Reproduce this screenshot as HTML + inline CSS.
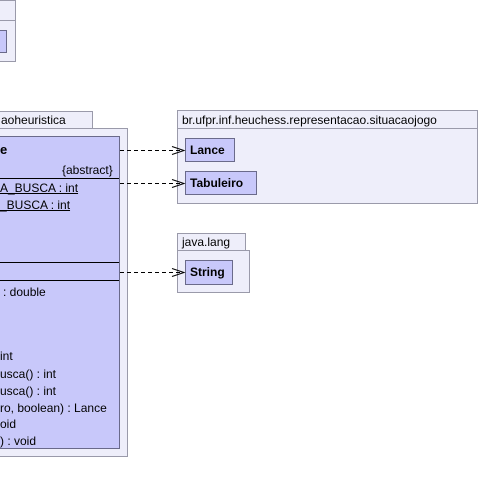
<!DOCTYPE html>
<html><head><style>
body{margin:0;width:479px;height:494px;background:#fff;position:relative;overflow:hidden;font-family:"Liberation Sans",sans-serif;font-size:12px;color:#000}
.a{position:absolute;box-sizing:border-box}
.pk{background:#eeeefa;border:1px solid #9a9aaa}
.cl{background:#c8c8fa;border:1px solid #6a6a8a}
.t{position:absolute;white-space:nowrap}
.b{font-weight:bold;font-size:12px}
</style></head><body>
<div class="a pk" style="left:-2px;top:0;width:18px;height:21px"></div>
<div class="a pk" style="left:-2px;top:20px;width:18px;height:42px"></div>
<div class="a cl" style="left:-2px;top:30px;width:9px;height:23px"></div>
<div class="a pk" style="left:-2px;top:111px;width:95px;height:18px"></div>
<div class="t" style="left:1px;top:113px">aoheuristica</div>
<div class="a pk" style="left:-2px;top:128px;width:130px;height:329px"></div>
<div class="a cl" style="left:-2px;top:136px;width:122px;height:313px"></div>
<div class="t b" style="left:0;top:142px;font-size:13px">e</div>
<div class="t" style="left:62px;top:163px">{abstract}</div>
<div class="a" style="left:0;top:178px;width:119px;height:1px;background:#000"></div>
<div class="t" style="left:0;top:181px;text-decoration:underline">A_BUSCA : int</div>
<div class="t" style="left:0;top:198px;text-decoration:underline">_BUSCA : int</div>
<div class="a" style="left:0;top:262px;width:119px;height:1px;background:#000"></div>
<div class="a" style="left:0;top:280px;width:119px;height:1px;background:#000"></div>
<div class="t" style="left:3px;top:285px">: double</div>
<div class="t" style="left:0;top:349px">int</div>
<div class="t" style="left:0;top:367px">usca() : int</div>
<div class="t" style="left:0;top:384px">usca() : int</div>
<div class="t" style="left:0;top:401px">ro, boolean) : Lance</div>
<div class="t" style="left:0;top:417px">oid</div>
<div class="t" style="left:0;top:434px">) : void</div>
<div class="a pk" style="left:177px;top:110px;width:301px;height:19px"></div>
<div class="t" style="left:182px;top:113px">br.ufpr.inf.heuchess.representacao.situacaojogo</div>
<div class="a pk" style="left:177px;top:128px;width:301px;height:76px"></div>
<div class="a cl" style="left:185px;top:138px;width:50px;height:24px"></div>
<div class="t b" style="left:190px;top:143px">Lance</div>
<div class="a cl" style="left:185px;top:171px;width:72px;height:24px"></div>
<div class="t b" style="left:190px;top:176px">Tabuleiro</div>
<div class="a pk" style="left:177px;top:233px;width:69px;height:18px"></div>
<div class="t" style="left:182px;top:235px">java.lang</div>
<div class="a pk" style="left:177px;top:250px;width:73px;height:43px"></div>
<div class="a cl" style="left:185px;top:260px;width:48px;height:25px"></div>
<div class="t b" style="left:190px;top:265px">String</div>
<svg class="a" style="left:0;top:0" width="479" height="494">
<g stroke="#000" fill="none" stroke-width="1">
<path d="M120 150.5H184" stroke-dasharray="4,3"/><path d="M172 146.5L184 150.5L172 154.5"/>
<path d="M120 183.5H184" stroke-dasharray="4,3"/><path d="M172 179.5L184 183.5L172 187.5"/>
<path d="M120 272.5H184" stroke-dasharray="4,3"/><path d="M172 268.5L184 272.5L172 276.5"/>
</g></svg>
</body></html>
